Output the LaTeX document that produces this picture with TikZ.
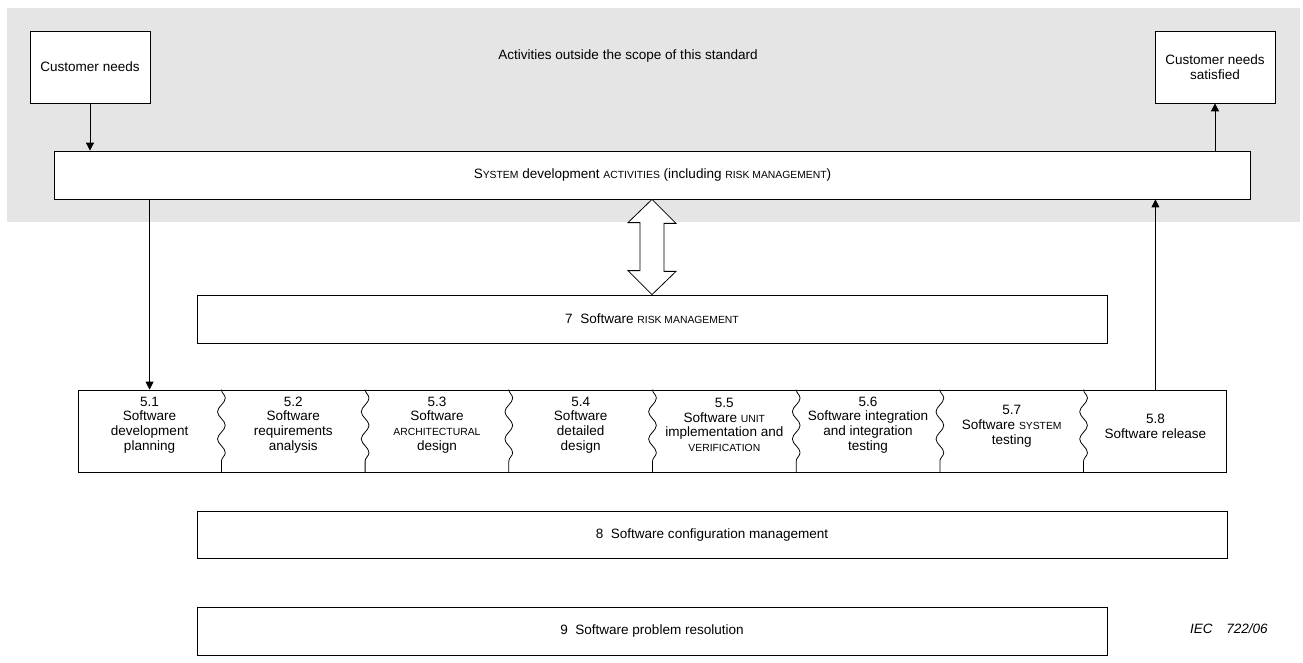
\documentclass[tikz,border=0pt]{standalone}
\usepackage{fontspec}
\setmainfont{Liberation Sans}
\usepackage{tikz}
\usetikzlibrary{positioning}
\usetikzlibrary{calc}
\usetikzlibrary{arrows.meta}
\usetikzlibrary{decorations.pathmorphing}

\newcommand\smcap[1]{{\fontsize{5.9}{8.4}\selectfont #1}}

\tikzset{
	box/.style={draw,line width=0.45pt,fill=white,inner sep=1pt,align=center},
	cell/.style={align=center,inner sep=0pt},
	arr/.style={line width=0.45pt,-{Triangle[length=4.5pt,width=4.5pt]}},
	wavy/.style={line width=0.45pt,decorate,decoration={snake,amplitude=2.2pt,segment length=0.545cm}}
}

\begin{document}
\begin{tikzpicture}[x=0.02cm,y=-0.02cm,font=\fontsize{7.7}{8.4}\selectfont]
\useasboundingbox (0,0) rectangle (1303,663);
%hors du champ de la norme
\fill[black!10] (7,8) rectangle (1300,222);
\node (act) at (628,56) {Activities outside the scope of this standard};
\node[box,minimum width=2.4cm,minimum height=1.44cm] (cn) at (90,67) {Customer needs};
\node[box,minimum width=2.4cm,minimum height=1.44cm] (cns) at (1215,67) {Customer needs\\satisfied};
\node[box,minimum width=23.94cm,minimum height=0.96cm] (sys) at (652.5,175) {S\smcap{YSTEM} development \smcap{ACTIVITIES} (including \smcap{RISK MANAGEMENT})};
\draw[arr] (cn.south) -- (cn |- sys.north);
\draw[arr] (cns |- sys.north) -- (cns.south);

%gestion des risques
\node[box,minimum width=18.2cm,minimum height=0.96cm] (rm) at (652,319) {7~~Software \smcap{RISK MANAGEMENT}};
\draw[line width=0.45pt,fill=white] (rm.north |- sys.south) -- ++(24,24) -- ++(-12,0) -- ++(0,48) -- ++(12,0) -- (rm.north)
	-- ++(-24,-24) -- ++(12,0) -- ++(0,-48) -- ++(-12,0) -- cycle;

%processus 5.1 a 5.8
\node[box,minimum width=22.98cm,minimum height=1.64cm] (row) at (652.5,431) {};
\node[cell] (t51) at ($(row.west)!0.0625!(row.east)+(0,-6)$) {5.1\\Software\\development\\planning};
\node[cell] (t52) at ($(row.west)!0.1875!(row.east)+(0,-6)$) {5.2\\Software\\requirements\\analysis};
\node[cell] (t53) at ($(row.west)!0.3125!(row.east)+(0,-6)$) {5.3\\Software\\\smcap{ARCHITECTURAL}\\design};
\node[cell] (t54) at ($(row.west)!0.4375!(row.east)+(0,-6)$) {5.4\\Software\\detailed\\design};
\node[cell] (t55) at ($(row.west)!0.5625!(row.east)+(0,-6)$) {5.5\\Software \smcap{UNIT}\\implementation and\\\smcap{VERIFICATION}};
\node[cell] (t56) at ($(row.west)!0.6875!(row.east)+(0,-6)$) {5.6\\Software integration\\and integration\\testing};
\node[cell] (t57) at ($(row.west)!0.8125!(row.east)+(0,-5)$) {5.7\\Software \smcap{SYSTEM}\\testing};
\node[cell] (t58) at ($(row.west)!0.9375!(row.east)+(0,-5)$) {5.8\\Software release};
\draw[wavy] ($(row.north west)!0.125!(row.north east)$) -- ($(row.south west)!0.125!(row.south east)$);
\draw[wavy] ($(row.north west)!0.25!(row.north east)$) -- ($(row.south west)!0.25!(row.south east)$);
\draw[wavy] ($(row.north west)!0.375!(row.north east)$) -- ($(row.south west)!0.375!(row.south east)$);
\draw[wavy] ($(row.north west)!0.5!(row.north east)$) -- ($(row.south west)!0.5!(row.south east)$);
\draw[wavy] ($(row.north west)!0.625!(row.north east)$) -- ($(row.south west)!0.625!(row.south east)$);
\draw[wavy] ($(row.north west)!0.75!(row.north east)$) -- ($(row.south west)!0.75!(row.south east)$);
\draw[wavy] ($(row.north west)!0.875!(row.north east)$) -- ($(row.south west)!0.875!(row.south east)$);
\draw[arr] (t51 |- sys.south) -- (t51 |- row.north);
\draw[arr] (t58 |- row.north) -- (t58 |- sys.south);

%configuration et problemes
\node[box,minimum width=20.6cm,minimum height=0.94cm] (scm) at (712,534.5) {8~~Software configuration management};
\node[box,minimum width=18.2cm,minimum height=0.96cm] (spr) at (652,631) {9~~Software problem resolution};
\node[anchor=east,inner sep=0pt,font=\fontsize{7.7}{8.4}\selectfont\itshape] (iec) at (1268,629) {IEC\quad 722/06};
\end{tikzpicture}
\end{document}
